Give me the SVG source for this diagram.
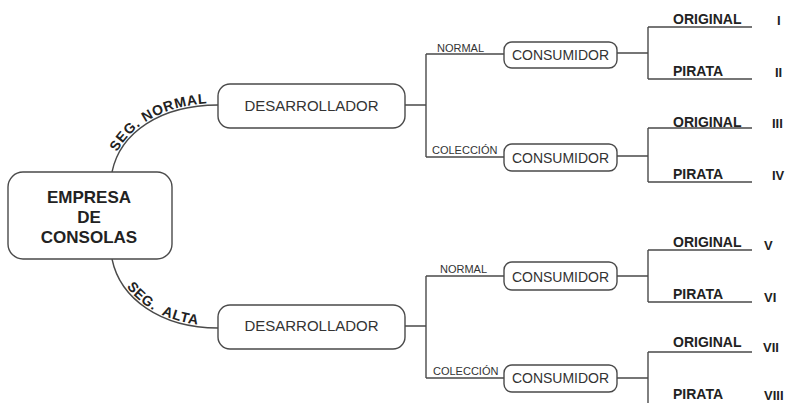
<svg xmlns="http://www.w3.org/2000/svg" xmlns:xlink="http://www.w3.org/1999/xlink" width="790" height="403" viewBox="0 0 790 403">
<style>
.bg{fill:#ffffff}
.box{fill:#ffffff;stroke:#4a4a4a;stroke-width:1.4}
.ln{fill:none;stroke:#4a4a4a;stroke-width:1.4}
.t{font-family:"Liberation Sans",Arial,sans-serif;fill:#333333}
.mid{font-size:15px;text-anchor:middle}
.con{font-size:14px;text-anchor:middle}
.sm{font-size:11px}
.b{font-family:"Liberation Sans",Arial,sans-serif;font-weight:bold;fill:#222222}
.leaf{font-size:14px}
.num{font-size:13px}
.main{font-size:17px;text-anchor:middle}
.arc{font-size:14px;letter-spacing:0.6px}
</style>
<defs>
<path id="p1" d="M112,172 C120,133 160,105 218,105"/>
<path id="p2" d="M112,259 C120,298 160,328 218,328"/>
</defs>
<rect class="bg" x="0" y="0" width="790" height="403"/>
<g id="connectors">
<use xlink:href="#p1" class="ln"/>
<use xlink:href="#p2" class="ln"/>
<path class="ln" d="M405,105 H426 M426,54 V157 M426,54 H504 M426,157 H504"/>
<path class="ln" d="M405,326 H426 M426,276 V378 M426,276 H504 M426,378 H504"/>
<path class="ln" d="M617,53 H648 M648,27 V79 M648,27 H752 M648,79 H752"/>
<path class="ln" d="M617,156 H648 M648,128 V182 M648,128 H752 M648,182 H752"/>
<path class="ln" d="M617,276 H648 M648,250 V302 M648,250 H752 M648,302 H752"/>
<path class="ln" d="M617,378 H648 M648,352 V410 M648,352 H752 M648,405 H752"/>
<text class="b arc" dy="-2"><textPath xlink:href="#p1" startOffset="20">SEG. NORMAL</textPath></text>
<text class="b arc" dy="-2" style="letter-spacing:1px;word-spacing:4px"><textPath xlink:href="#p2" startOffset="32">SEG. ALTA</textPath></text>
<text class="t sm" x="437" y="52">NORMAL</text>
<text class="t sm" x="432" y="154">COLECCIÓN</text>
<text class="t sm" x="440" y="273">NORMAL</text>
<text class="t sm" x="433" y="375">COLECCIÓN</text>
</g>
<g id="empresa">
<rect class="box" x="8" y="172" width="164" height="87" rx="15"/>
<text class="b main" x="89" y="203">EMPRESA</text>
<text class="b main" x="89" y="223">DE</text>
<text class="b main" x="89" y="243">CONSOLAS</text>
</g>
<g id="desarrollador1">
<rect class="box" x="218" y="84" width="187" height="44" rx="12"/>
<text class="t mid" x="311.5" y="111">DESARROLLADOR</text>
</g>
<g id="desarrollador2">
<rect class="box" x="218" y="305" width="187" height="44" rx="12"/>
<text class="t mid" x="311.5" y="331">DESARROLLADOR</text>
</g>
<g id="consumidor1">
<rect class="box" x="504" y="42" width="113" height="26" rx="8"/>
<text class="t con" x="560.5" y="60">CONSUMIDOR</text>
</g>
<g id="consumidor2">
<rect class="box" x="504" y="144" width="113" height="27" rx="8"/>
<text class="t con" x="560.5" y="163">CONSUMIDOR</text>
</g>
<g id="consumidor3">
<rect class="box" x="504" y="262" width="113" height="28" rx="8"/>
<text class="t con" x="560.5" y="282">CONSUMIDOR</text>
</g>
<g id="consumidor4">
<rect class="box" x="504" y="365" width="113" height="27" rx="8"/>
<text class="t con" x="560.5" y="383">CONSUMIDOR</text>
</g>
<g id="leaf1"><text class="b leaf" x="673" y="24">ORIGINAL</text><text class="b num" x="777" y="25">I</text></g>
<g id="leaf2"><text class="b leaf" x="673" y="76">PIRATA</text><text class="b num" x="775" y="77">II</text></g>
<g id="leaf3"><text class="b leaf" x="673" y="127">ORIGINAL</text><text class="b num" x="772" y="128">III</text></g>
<g id="leaf4"><text class="b leaf" x="673" y="179">PIRATA</text><text class="b num" x="772" y="180">IV</text></g>
<g id="leaf5"><text class="b leaf" x="673" y="247">ORIGINAL</text><text class="b num" x="764" y="250">V</text></g>
<g id="leaf6"><text class="b leaf" x="673" y="299">PIRATA</text><text class="b num" x="764" y="302">VI</text></g>
<g id="leaf7"><text class="b leaf" x="673" y="347">ORIGINAL</text><text class="b num" x="763" y="352">VII</text></g>
<g id="leaf8"><text class="b leaf" x="673" y="399">PIRATA</text><text class="b num" x="764" y="400">VIII</text></g>
</svg>
